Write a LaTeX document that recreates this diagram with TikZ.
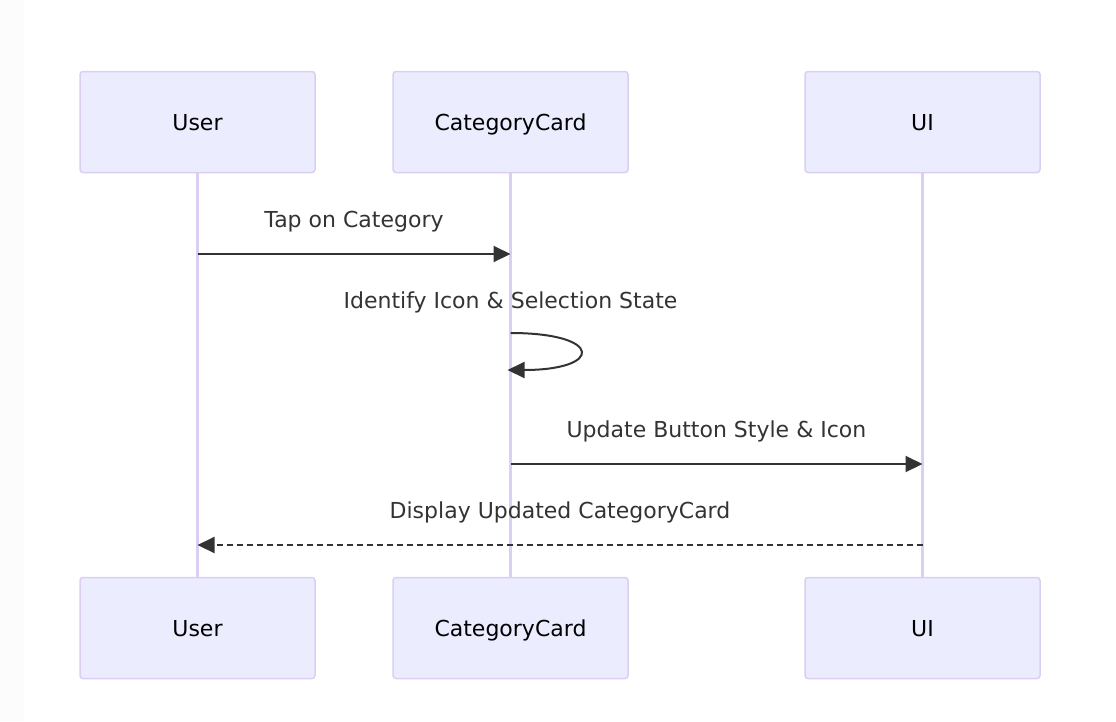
\documentclass[tikz,border=0pt]{standalone}
\usepackage{fontspec}
\setmainfont{DejaVu Sans}
\usetikzlibrary{positioning,arrows.meta}
\definecolor{actorfill}{HTML}{ECECFF}
\definecolor{actorline}{HTML}{DACEF3}
\definecolor{msgcol}{HTML}{333333}

\begin{document}
\begin{tikzpicture}[%
    x=1pt,y=-1pt,node distance=76.5pt,
    actor/.style={%
      rectangle,rounded corners=3pt,draw=actorline,line width=1.5pt,fill=actorfill,
      minimum width=235pt,minimum height=101pt,text height=16pt,text depth=0pt,
      font=\fontsize{22}{26}\selectfont},
    life/.style={draw=actorline,line width=2.5pt},
    msg/.style={draw=msgcol,line width=2pt,-{Triangle[length=17pt,width=16pt]}},
    lbl/.style={text=msgcol,text height=16pt,text depth=0pt,font=\fontsize{22}{26}\selectfont}
  ]
    \fill[black!1.2] (0,0) rectangle (24,721);
    \useasboundingbox (0,0) rectangle (1116,721);
    \node[actor] (user) at (197.5,122)           {User};
    \node[actor] (card) [right=of user]          {CategoryCard};
    \node[actor] (ui) [right=175.5pt of card]    {UI};
    \node[actor] (user2) [below=403.5pt of user] {User};
    \node[actor] (card2) [below=403.5pt of card] {CategoryCard};
    \node[actor] (ui2) [below=403.5pt of ui]     {UI};
    \draw[life] (user) -- (user2);
    \draw[life] (card) -- (card2);
    \draw[life] (ui) -- (ui2);
    \coordinate (r1) at (0,254);
    \coordinate (r2a) at (0,333);
    \coordinate (r2b) at (0,370);
    \coordinate (r3) at (0,464);
    \coordinate (r4) at (0,545);
    \draw[msg] (user |- r1) -- node[lbl,yshift=35pt] {Tap on Category} (card |- r1);
    \node[lbl] (selfl) at (card |- 0,300) {Identify Icon \& Selection State};
    \draw[msg] (card |- r2a) .. controls ([xshift=93pt]card |- r2a) and ([xshift=93pt]card |- r2b) .. ([xshift=-3pt]card |- r2b);
    \draw[msg] (card |- r3) -- node[lbl,yshift=35pt] {Update Button Style \& Icon} (ui |- r3);
    \draw[msg,dash pattern=on 6pt off 4pt] (ui |- r4) -- node[lbl,yshift=35pt] {Display Updated CategoryCard} (user |- r4);
  \end{tikzpicture}
\end{document}
